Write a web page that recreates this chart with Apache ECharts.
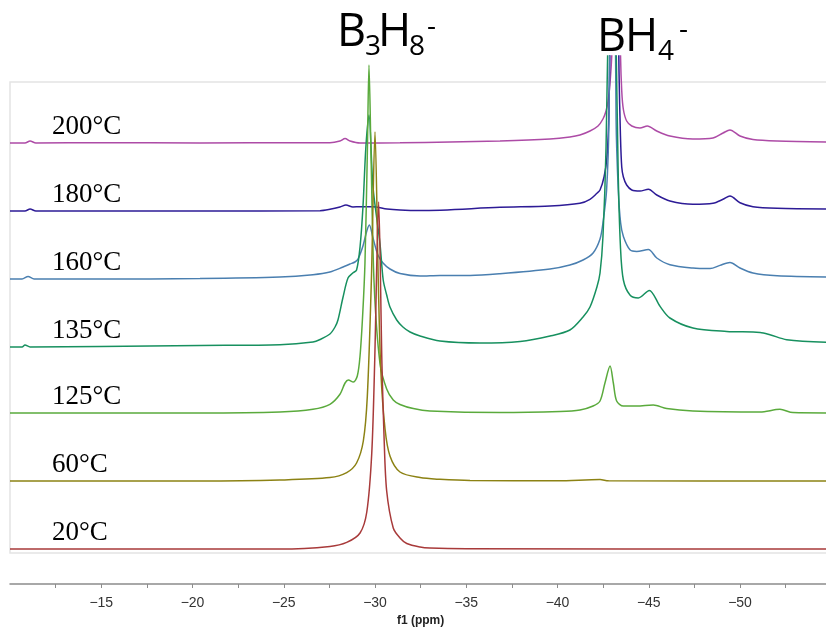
<!DOCTYPE html>
<html>
<head>
<meta charset="utf-8">
<script src="https://cdn.jsdelivr.net/npm/echarts@6/dist/echarts.min.js"></script>
<style>
html, body { margin: 0; padding: 0; background: #fff; }
#chart { width: 826px; height: 627px; }
</style>
</head>
<body>
<div id="chart"></div>
<script>
// temperatures, bottom trace first
var temps = ['20°C', '60°C', '125°C', '135°C', '160°C', '180°C', '200°C'];
// vertical offset of each trace (stacked plot)
var offsets = [0, 68, 136, 202, 270, 338, 406];

// [ppm, intensity]
var spec20 = [[-10, 0], [-24.79, 0], [-27.53, 2.6], [-28.45, 6.6], [-29.18, 16], [-29.55, 37], [-29.82, 95],
    [-29.98, 185], [-30.2, 347], [-30.38, 185], [-30.5, 110], [-30.64, 58], [-31.0, 21], [-31.37, 11],
    [-31.74, 5.5], [-32.47, 2], [-33.01, 1], [-35.0, 0.3], [-55, 0]];

var spec60 = [[-10, 0], [-20.41, 0], [-24.79, 1], [-27.53, 3.4], [-28.45, 8.4], [-28.99, 18], [-29.36, 40],
    [-29.58, 85], [-29.8, 200], [-30.0, 349], [-30.18, 200], [-30.32, 110], [-30.55, 52], [-30.82, 25],
    [-31.37, 9], [-32.47, 3.4], [-33.56, 1.7], [-35.21, 0.5], [-40.0, 0.3], [-42.33, 1.4], [-42.8, 0.2], [-55, 0]];

var spec125 = [[-10, 0], [-20.41, 0], [-24.79, 1], [-26.6, 3.7], [-27.53, 8.7], [-28.08, 18.7], [-28.36, 30],
    [-28.54, 33], [-28.81, 31], [-29.03, 37], [-29.18, 57], [-29.33, 100], [-29.45, 150], [-29.58, 260],
    [-29.67, 348], [-29.78, 260], [-29.95, 130], [-30.27, 50], [-30.64, 24], [-31.0, 13], [-31.37, 8.5],
    [-32.1, 4.4], [-33.01, 2], [-36.85, 0.4], [-40.14, 1.5], [-41.23, 3], [-41.95, 7], [-42.33, 12], [-42.6, 30],
    [-42.88, 47], [-43.06, 30], [-43.24, 12], [-43.61, 7], [-44.34, 7], [-45.25, 8], [-45.98, 4.4], [-47.42, 2],
    [-51.1, 1], [-52.19, 3.7], [-52.9, 0.4], [-55, 0]];

var spec135 = [[-10, 0], [-10.66, 0], [-10.82, 2], [-11.1, 0], [-14.93, 0.5], [-20.41, 1.5], [-24.79, 2.3],
    [-26.6, 5], [-26.99, 7.5], [-27.53, 13], [-27.81, 20], [-27.97, 27], [-28.25, 50], [-28.52, 69], [-28.78, 74],
    [-28.99, 77], [-29.18, 100], [-29.34, 140], [-29.5, 200], [-29.67, 232], [-29.89, 160], [-30.27, 104],
    [-30.45, 67], [-30.64, 52], [-30.82, 40], [-31.19, 27], [-31.53, 20], [-31.92, 15], [-32.47, 11], [-33.56, 6],
    [-35.75, 4], [-37.95, 5.6], [-39.59, 11], [-40.68, 17], [-41.4, 30], [-41.78, 40], [-42.16, 60], [-42.33, 74],
    [-42.49, 110], [-42.66, 200], [-42.82, 400], [-42.99, 900], [-43.15, 400], [-43.32, 180], [-43.45, 100],
    [-43.61, 67], [-43.97, 52], [-44.43, 49], [-45.03, 56.6], [-45.62, 40.6], [-46.16, 29], [-47.42, 19],
    [-49.27, 15.6], [-51.1, 14.6], [-51.64, 12.3], [-52.56, 7.3], [-55, 4.5]];

var spec160 = [[-10, 0], [-10.66, 0], [-10.99, 2.5], [-11.32, 0], [-14.93, 0], [-20.41, 0.5], [-24.79, 2],
    [-26.6, 4.3], [-27.53, 7], [-28.25, 12], [-28.63, 15], [-28.9, 17], [-29.07, 20], [-29.34, 33], [-29.55, 48],
    [-29.69, 54], [-29.89, 41], [-30.16, 24], [-30.44, 16], [-30.82, 10], [-31.37, 5.5], [-32.47, 3], [-33.56, 3.6],
    [-35.21, 3.6], [-36.85, 5.3], [-39.59, 10], [-40.68, 14], [-41.4, 19], [-41.95, 26], [-42.33, 40], [-42.49, 56],
    [-42.69, 89], [-42.82, 160], [-43.01, 600], [-43.21, 160], [-43.33, 89], [-43.46, 56], [-43.61, 42.6],
    [-43.97, 29.3], [-44.34, 27.6], [-44.98, 29.5], [-45.44, 21], [-46.16, 14.3], [-47.42, 11], [-48.36, 10.5],
    [-48.9, 13.6], [-49.45, 16.6], [-50.0, 11], [-50.71, 6], [-52.03, 3.3], [-55, 2]];

var spec180 = [[-10, 0], [-10.82, 0], [-11.1, 2], [-11.42, 0], [-20.41, 0], [-26.99, 0.3], [-27.53, 1.7],
    [-28.08, 4], [-28.41, 6], [-28.79, 4], [-29.18, 4.3], [-29.89, 4.3], [-30.66, 2], [-31.37, 1], [-32.47, 0.5],
    [-36.85, 3.7], [-39.59, 5], [-41.23, 7.7], [-41.78, 11.7], [-42.16, 17.7], [-42.33, 21], [-42.55, 34],
    [-42.71, 54], [-42.82, 100], [-42.93, 250], [-43.1, 600], [-43.3, 250], [-43.37, 140], [-43.45, 75],
    [-43.52, 44], [-43.61, 34], [-43.79, 26], [-44.07, 21], [-44.52, 20], [-44.98, 21.7], [-45.44, 16],
    [-46.16, 10], [-47.42, 6.7], [-48.52, 7.7], [-49.07, 11.7], [-49.45, 15], [-50.0, 8.3], [-50.71, 4.3],
    [-52.03, 2.7], [-55, 2]];

var spec200 = [[-10, 0], [-10.82, 0], [-11.1, 2], [-11.42, 0], [-14.93, 0.3], [-20.41, 0], [-25.89, 0.3],
    [-27.53, 0.3], [-28.08, 2], [-28.36, 4.5], [-28.63, 2], [-29.18, 0], [-31.37, 0.2], [-34.11, 1], [-36.85, 2],
    [-39.59, 4], [-40.68, 6], [-41.23, 8], [-41.78, 12], [-42.22, 17], [-42.49, 24], [-42.66, 32], [-42.77, 42],
    [-42.88, 60], [-42.99, 95], [-43.1, 180], [-43.26, 600], [-43.37, 200], [-43.45, 90], [-43.52, 52],
    [-43.61, 33.5], [-43.79, 22], [-44.07, 17], [-44.52, 15], [-44.92, 17], [-45.44, 12], [-46.16, 7],
    [-47.42, 4], [-48.52, 5], [-49.07, 10], [-49.45, 13], [-50.0, 7], [-50.71, 3.5], [-52.03, 2], [-55, 1]];

var spectra = [spec20, spec60, spec125, spec135, spec160, spec180, spec200];
var colors = ['#a83a3a', '#8c8214', '#5aaa3c', '#17905f', '#4a7fb0', '#2d1b96', '#ad4ba6'];

var chart = echarts.init(document.getElementById('chart'));

var series = [];
for (var i = spectra.length - 1; i >= 0; i--) {
    var off = offsets[i];
    series.push({
        name: temps[i],
        type: 'line',
        symbol: 'none',
        smooth: 0.3,
        clip: true,
        animation: false,
        lineStyle: { color: colors[i], width: 1.5 },
        data: spectra[i].map(function (p) { return [p[0], p[1] + off]; })
    });
}

chart.setOption({
    animation: false,
    grid: { left: 10, right: -5.25, top: 56, bottom: 74, containLabel: false, outerBoundsMode: 'none' },
    xAxis: {
        type: 'value',
        inverse: true,
        min: -55,
        max: -10,
        interval: 2.5,
        offset: 31,
        name: 'f1 (ppm)',
        nameLocation: 'middle',
        nameGap: 28,
        nameTextStyle: { fontFamily: 'Liberation Sans', fontWeight: 'bold', fontSize: 12, color: '#222' },
        axisLine: { onZero: false, lineStyle: { color: '#8c8c8c', width: 1.5 } },
        axisTick: { length: 4, lineStyle: { color: '#8c8c8c' } },
        axisLabel: {
            margin: 12,
            showMinLabel: false,
            showMaxLabel: false,
            fontFamily: 'Liberation Sans',
            fontSize: 14,
            color: '#333',
            formatter: function (v) {
                if (v % 5 !== 0) return '';
                return '\u2212' + Math.abs(v);
            }
        },
        splitLine: { show: false }
    },
    yAxis: { type: 'value', min: -4, max: 493, show: false },
    series: series
});

// frame, peak titles and temperature labels
var g = [];
g.push({ type: 'rect', z: 0, silent: true, shape: { x: 10, y: 82, width: 830, height: 471 },
    style: { fill: 'none', stroke: '#e4e4e4', lineWidth: 1.5 } });

temps.forEach(function (t, i) {
    var p = chart.convertToPixel({ gridIndex: 0 }, [-12.3, offsets[i] + 16.5]);
    g.push({ type: 'text', x: p[0], y: p[1], z: 5,
        style: { text: t, fontFamily: 'Liberation Serif', fontSize: 27, fill: '#000', verticalAlign: 'middle' } });
});

function glyph(txt, x, y, size) {
    g.push({ type: 'text', x: x, y: y, z: 5,
        style: { text: txt, fontFamily: 'Open Sans', fontSize: size, fill: '#000', verticalAlign: 'middle' } });
}
glyph('B', 337, 33.5, 45); glyph('3', 365, 47, 28); glyph('H', 378, 33.5, 45); glyph('8', 409, 47, 28); glyph('-', 427, 27, 28);
glyph('B', 597, 38.5, 45); glyph('H', 625, 38.5, 45); glyph('4', 658, 52, 28); glyph('-', 679, 30, 28);

chart.setOption({ graphic: g });
</script>
</body>
</html>
